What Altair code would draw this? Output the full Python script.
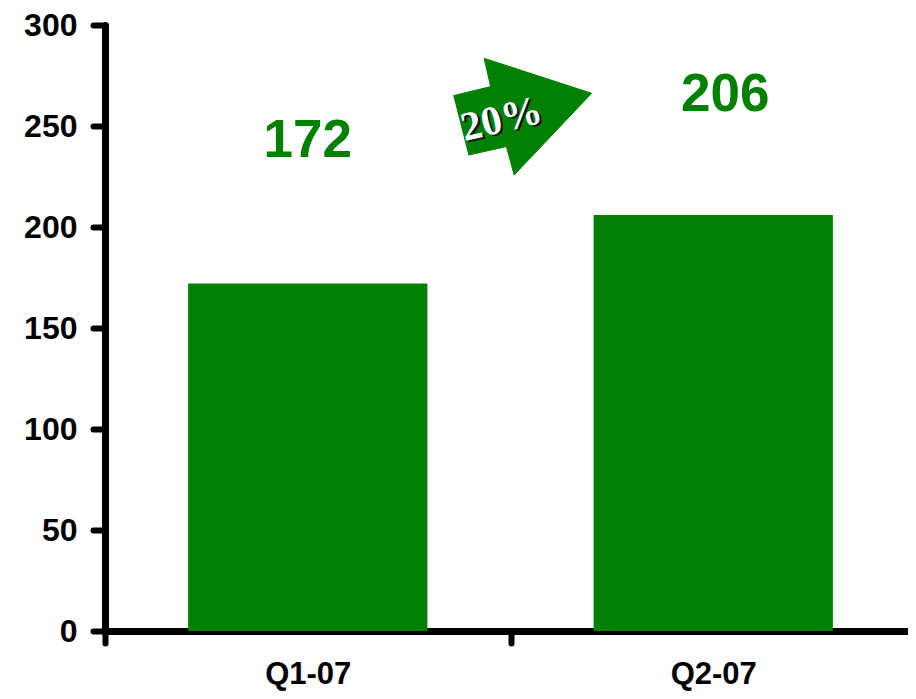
import altair as alt
import pandas as pd

# ---- data ----
CATEGORIES = ["Q1-07", "Q2-07"]
VALUES = [172, 206]
GROWTH_LABEL = "20%"

# arrow outline (category-position units 0..2, value units)
ARROW_X = [0.859, 0.951, 0.935, 1.200, 1.009, 0.990, 0.896]
ARROW_Y = [265.0, 269.5, 283.5, 266.2, 225.7, 239.8, 235.6]
ARROW_TEXT_POS = (0.978, 253.0)

GREEN = "#008000"
SANS = "Liberation Sans"

bars_df = pd.DataFrame({"category": CATEGORIES, "value": VALUES})
arrow_df = pd.DataFrame({"px": ARROW_X, "py": ARROW_Y, "i": list(range(len(ARROW_X)))})
arrow_text_df = pd.DataFrame({"px": [ARROW_TEXT_POS[0]], "py": [ARROW_TEXT_POS[1]], "t": [GROWTH_LABEL]})

yscale = alt.Scale(domain=[0, 300], nice=False)

base = alt.Chart(bars_df).encode(
    x=alt.X(
        "category:N",
        sort=CATEGORIES,
        scale=alt.Scale(paddingInner=0, paddingOuter=0),
        axis=alt.Axis(
            title=None,
            labelAngle=0,
            labelFont=SANS,
            labelFontSize=31,
            labelFontWeight="bold",
            labelColor="black",
            labelPadding=16,
            domainColor="black",
            domainWidth=7,
            domainCap="round",
            tickColor="black",
            tickWidth=6,
            tickSize=12,
            tickCap="round",
            tickBand="extent",
        ),
    ),
    y=alt.Y(
        "value:Q",
        scale=yscale,
        axis=alt.Axis(
            title=None,
            values=[0, 50, 100, 150, 200, 250, 300],
            grid=False,
            labelFont=SANS,
            labelFontSize=32,
            labelFontWeight="bold",
            labelColor="black",
            labelPadding=16,
            domainColor="black",
            domainWidth=7,
            domainCap="round",
            tickColor="black",
            tickWidth=6,
            tickSize=12,
            tickCap="round",
        ),
    ),
)

bars = base.mark_bar(color=GREEN, width=alt.RelativeBandSize(0.59))

lab1 = base.transform_filter(alt.datum.category == CATEGORIES[0]).mark_text(
    font=SANS, fontSize=53, fontWeight="bold", color=GREEN,
    baseline="alphabetic", align="center", dy=-127
).encode(text=alt.Text("value:Q"))

lab2 = base.transform_filter(alt.datum.category == CATEGORIES[1]).mark_text(
    font=SANS, fontSize=53, fontWeight="bold", color=GREEN,
    baseline="alphabetic", align="center", dy=-104, dx=12
).encode(text=alt.Text("value:Q"))

ax = alt.X("px:Q", scale=alt.Scale(domain=[0, 2], nice=False, zero=False), axis=None)
ay = alt.Y("py:Q", scale=yscale, axis=None)

arrow = alt.Chart(arrow_df).mark_line(
    fill=GREEN, stroke=GREEN, strokeWidth=1
).encode(x=ax, y=ay, order="i:Q")

shadow = alt.Chart(arrow_text_df).mark_text(
    font="Liberation Serif", fontSize=41, fontWeight="bold", color="#101010",
    angle=346.5, align="center", baseline="middle", dx=2, dy=2
).encode(x=ax, y=ay, text="t:N")

atext = alt.Chart(arrow_text_df).mark_text(
    font="Liberation Serif", fontSize=41, fontWeight="bold", color="white",
    angle=346.5, align="center", baseline="middle"
).encode(x=ax, y=ay, text="t:N")

main = alt.layer(bars, lab1, lab2)
deco = alt.layer(arrow, shadow, atext)

chart = alt.layer(main, deco).resolve_scale(
    x="independent", y="independent"
).properties(
    width=811,
    height=606,
    autosize=alt.AutoSizeParams(type="none"),
    padding={"left": 97, "top": 17, "right": -8, "bottom": 60},
).configure_view(stroke=None)

chart.save("out.html", embed_options={"renderer": "svg", "actions": False})
